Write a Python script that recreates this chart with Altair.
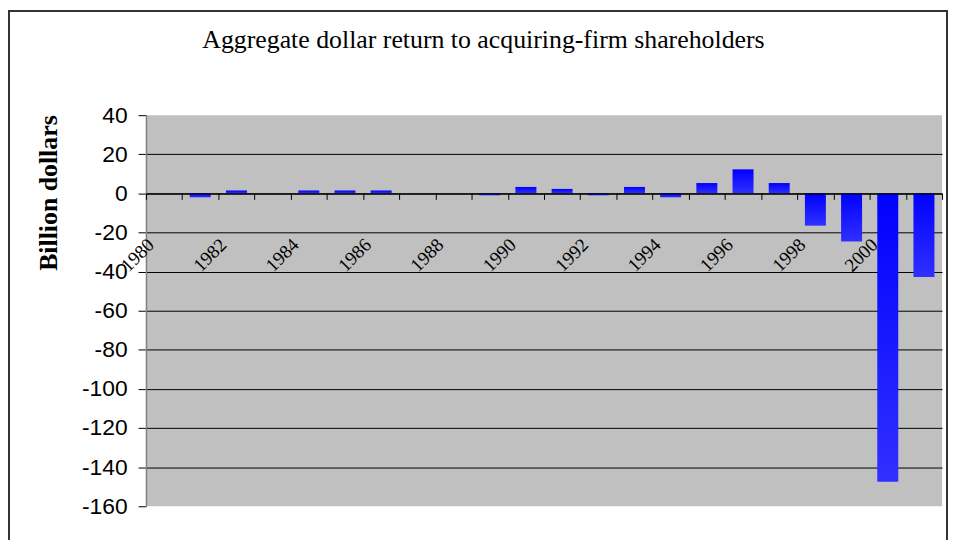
import altair as alt
import pandas as pd

years = [1980, 1981, 1982, 1983, 1984, 1985, 1986, 1987, 1988, 1989, 1990,
         1991, 1992, 1993, 1994, 1995, 1996, 1997, 1998, 1999, 2000, 2001]
returns = [0, -2, 1.5, 0, 1.5, 1.5, 1.5, 0, 0, -1, 3.3,
           2.3, -1, 3.3, -2, 5.3, 12.3, 5.3, -16.5, -24.6, -147.4, -42.8]
y_ticks = [40, 20, 0, -20, -40, -60, -80, -100, -120, -140, -160]

df = pd.DataFrame({"year": years, "ret": returns})

W, H = 802, 394
Y_MIN, Y_MAX = -160, 40
zero_px = H * Y_MAX / (Y_MAX - Y_MIN)

grad = alt.Gradient(
    gradient="linear",
    stops=[alt.GradientStop(color="#0000FF", offset=0),
           alt.GradientStop(color="#3030FF", offset=1)],
    x1=0, x2=0, y1=0, y2=1,
)

bars = alt.Chart(df).mark_bar(width=alt.RelativeBandSize(0.58), color=grad).encode(
    x=alt.X("year:O",
            scale=alt.Scale(paddingInner=0, paddingOuter=0),
            axis=alt.Axis(
                title=None, orient="bottom", offset=-(H - zero_px),
                tickBand="extent", tickSize=6, tickColor="black", tickWidth=1,
                domainColor="black", domainWidth=1.2,
                labelExpr="datum.value % 2 == 0 ? datum.label : ''",
                labelAngle=315, labelAlign="right", labelBaseline="top",
                labelFont="Liberation Serif", labelFontSize=19, labelColor="black",
                labelOffset=-20, labelPadding=36, labelOverlap=False, zindex=1,
            )),
    y=alt.Y("ret:Q",
            scale=alt.Scale(domain=[Y_MIN, Y_MAX], nice=False, zero=False),
            axis=alt.Axis(
                values=y_ticks, title="Billion dollars",
                labelExpr="'' + datum.value",
                titleFont="Liberation Serif", titleFontSize=26, titleFontWeight="bold",
                titleColor="black", titleX=-98, titleY=78, titleAlign="center",
                titleBaseline="middle", titleAngle=270,
                labelFont="Liberation Sans", labelFontSize=23, labelColor="black",
                labelPadding=11, tickSize=8, tickColor="black",
                domainColor="#808080", domainWidth=1.5,
                grid=True, gridColor="black", gridWidth=1,
                gridOpacity=alt.condition("datum.value == 40 || datum.value == -160",
                                          alt.value(0), alt.value(1)),
            )),
)

frame = alt.Chart(alt.Data(values=[{}])).mark_rect(
    fill="transparent", stroke="#333333", strokeWidth=2
).encode(
    x=alt.value(-138), x2=alt.value(W + 5), y=alt.value(-105), y2=alt.value(H + 80)
)

chart = alt.layer(bars, frame).properties(
    width=W, height=H,
    title=alt.TitleParams(
        "Aggregate dollar return to acquiring-firm shareholders",
        font="Liberation Serif", fontSize=26, fontWeight="normal", color="black",
        anchor="middle", frame="group", dx=-61, baseline="alphabetic", offset=-64,
    ),
    autosize=alt.AutoSizeParams(type="none"),
    padding={"left": 139, "top": 106, "right": 6, "bottom": 32},
).configure(background="white").configure_view(stroke=None, fill="#C0C0C0")

chart.save("out.html", embed_options={"renderer": "svg", "actions": False})
